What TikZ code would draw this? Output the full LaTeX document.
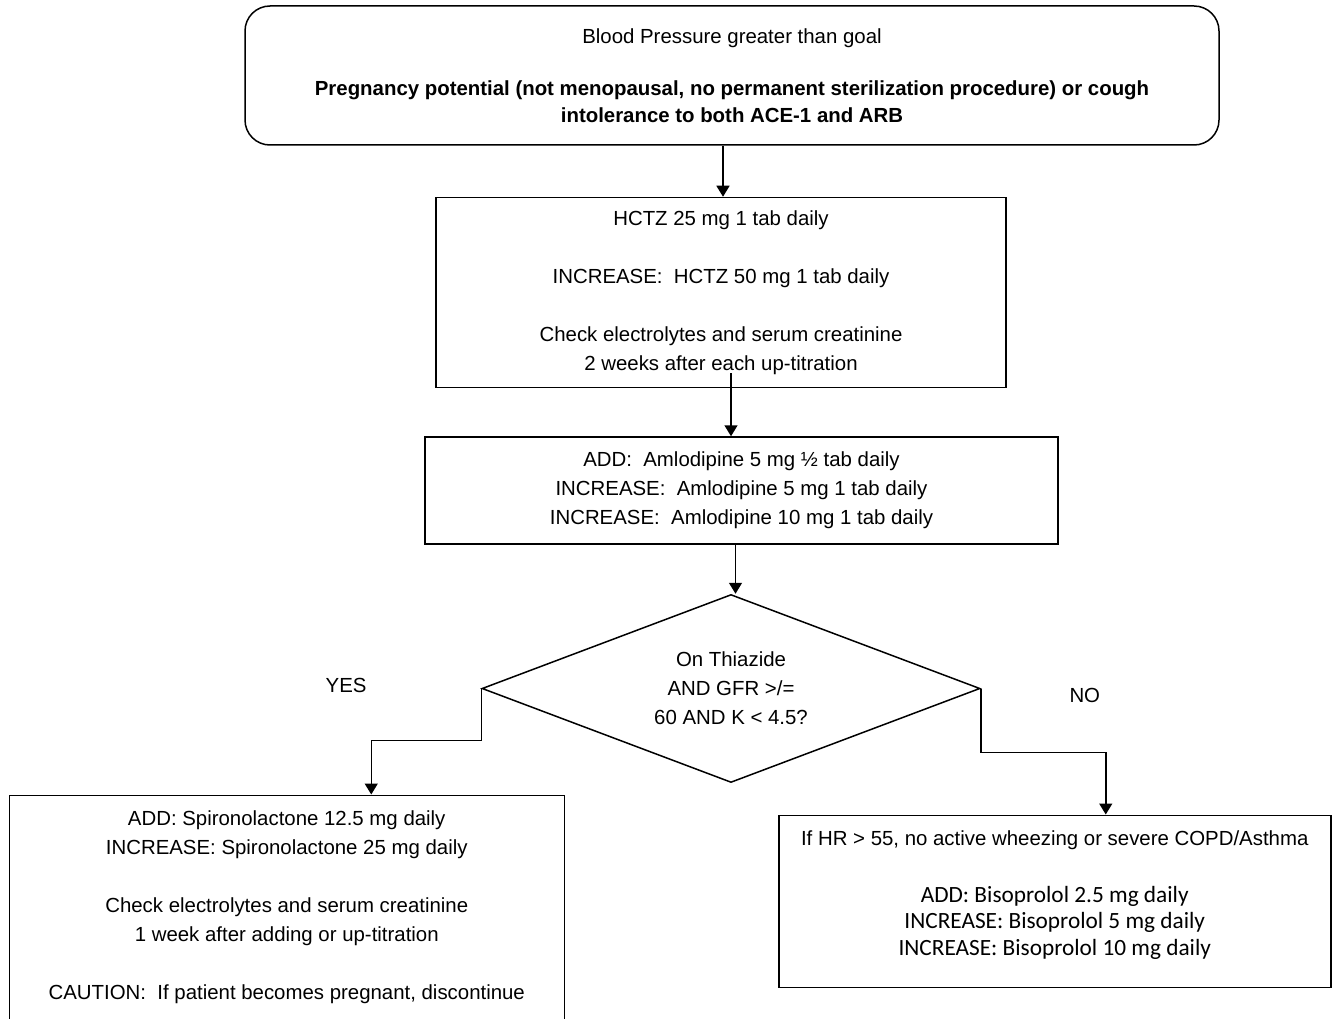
\documentclass[tikz,border=0pt]{standalone}
\usepackage{fontspec}
\setmainfont{Liberation Sans}
\newfontfamily\calib{Carlito}
\usetikzlibrary{positioning,shapes.geometric,arrows.meta}

\begin{document}
\begin{tikzpicture}[
  font=\fontsize{20.4}{29}\selectfont,
  line width=1.5pt,
  box/.style={draw, rectangle, align=center, inner sep=0pt},
  decision/.style={draw, diamond, aspect=2.65, align=center, inner sep=0pt},
  lbl/.style={inner sep=0pt},
  arr/.style={-{Triangle[length=11pt,width=13pt]}}
]

\useasboundingbox (0,0) rectangle (1333pt,-1019pt);

\node (goal) [box, rounded corners=25pt, minimum width=974pt, minimum height=139pt, font=\fontsize{20.4}{27}\selectfont] at (732pt,-75.5pt) {Blood Pressure greater than goal\\[25pt]\textbf{Pregnancy potential (not menopausal, no permanent sterilization procedure) or cough}\\\textbf{intolerance to both ACE-1 and ARB}};
\node (hctz) [box, below=51pt of goal, xshift=-11pt, minimum width=570pt, minimum height=190pt] {HCTZ 25 mg 1 tab daily\\[29pt]INCREASE:\ \ HCTZ 50 mg 1 tab daily\\[29pt]Check electrolytes and serum creatinine\\2 weeks after each up-titration};
\node (amlo) [box, below=48pt of hctz, xshift=20.5pt, minimum width=633pt, minimum height=107pt] {ADD:\ \ Amlodipine 5 mg ½ tab daily\\INCREASE:\ \ Amlodipine 5 mg 1 tab daily\\INCREASE:\ \ Amlodipine 10 mg 1 tab daily};
\node (dec) [decision, below=49pt of amlo, xshift=-10.5pt, minimum width=498pt, minimum height=188pt] {On Thiazide\\AND GFR >/=\\60 AND K < 4.5?};

\node (yes) [lbl, left=114pt of dec.west, yshift=3pt] {YES};
\node (no) [lbl, right=88pt of dec.east, yshift=-7pt] {NO};

\node (spiro) [box, below=106pt of dec.west, xshift=-194.5pt, minimum width=555pt, minimum height=224pt] {ADD: Spironolactone 12.5 mg daily\\INCREASE: Spironolactone 25 mg daily\\[29pt]Check electrolytes and serum creatinine\\1 week after adding or up-titration\\[29pt]CAUTION:\ \ If patient becomes pregnant, discontinue};
\node (biso) [box, below=126pt of dec.east, xshift=74pt, minimum width=552pt, minimum height=172pt, font=\calib\fontsize{23.3}{26.5}\selectfont] {{\rmfamily\fontsize{20.4}{29}\selectfont If HR > 55, no active wheezing or severe COPD/Asthma}\\[30.5pt]ADD: Bisoprolol 2.5 mg daily\\INCREASE: Bisoprolol 5 mg daily\\INCREASE: Bisoprolol 10 mg daily\\[-10pt]\mbox{}};

\draw[arr] ([xshift=-9pt]goal.south) -- ([xshift=-9pt]goal.south |- hctz.north);
\draw[arr] ([xshift=10pt,yshift=15pt]hctz.south) -- ([xshift=10pt]hctz.south |- amlo.north);
\draw[arr] ([xshift=-6pt]amlo.south) -- ([xshift=-6pt]amlo.south |- dec.north);
\draw[arr] (dec.west) -- ++(0,-52pt) -| ([xshift=84.5pt]spiro.north);
\draw[arr] (dec.east) -- ++(0,-64pt) -| ([xshift=51pt]biso.north);

\end{tikzpicture}
\end{document}
